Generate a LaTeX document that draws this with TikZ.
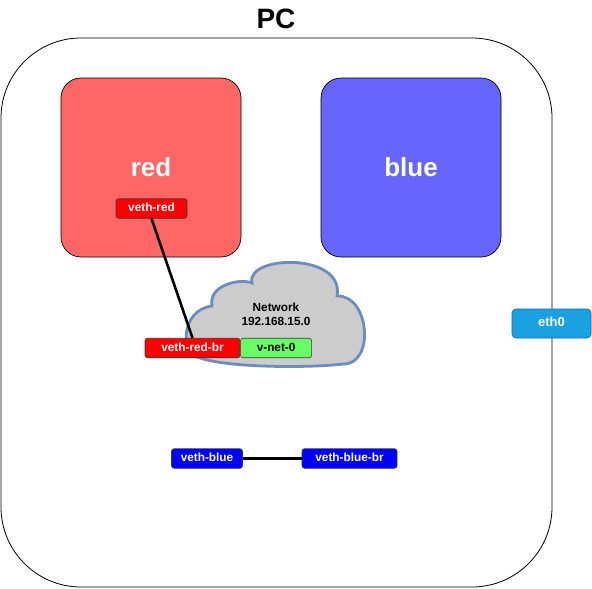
\documentclass[tikz,border=0pt]{standalone}
\usepackage{fontspec}
\setmainfont{Liberation Sans}
\usetikzlibrary{positioning}

\definecolor{nsred}{HTML}{FF6666}
\definecolor{nsblue}{HTML}{6666FF}
\definecolor{vethred}{HTML}{FF0000}
\definecolor{vethblue}{HTML}{0000FF}
\definecolor{vnetgreen}{HTML}{66FF66}
\definecolor{cloudgray}{HTML}{CCCCCC}
\definecolor{cloudedge}{HTML}{6C8EBF}
\definecolor{ethfill}{HTML}{1BA1E2}
\definecolor{ethedge}{HTML}{006EAF}
\definecolor{boxedge}{HTML}{36393D}

\begin{document}
\begin{tikzpicture}
[x=1pt, y=-1pt, text=black,
host/.style = {rectangle, draw=black, line width=0.8pt, rounded corners=80pt,
               minimum width=551pt, minimum height=549pt},
namespace/.style = {rectangle, draw=black, line width=0.7pt, rounded corners=20pt,
                    minimum width=180pt, minimum height=179pt, text=white,
                    font=\fontsize{26}{30}\selectfont\bfseries},
iface/.style = {rectangle, draw=boxedge, line width=0.6pt, rounded corners=2.5pt,
                minimum height=19.5pt, inner sep=0pt, text=white,
                font=\fontsize{11.8}{14}\selectfont\bfseries, text height=1.5ex, text depth=.25ex},
short/.style = {iface, minimum width=71pt},
long/.style = {iface, minimum width=95pt},
link/.style = {line width=2.6pt, black},
cloudline/.style = {draw=cloudedge, fill=cloudgray, line width=2.8pt}]
\useasboundingbox (0,0) rectangle (592,589);

% host machine
\node[host] (pc) at (276.5,312.5) {};
\node[font=\fontsize{28}{32}\selectfont\bfseries] (pclabel) at (276,18.5) {PC};

% network namespaces
\node[namespace, fill=nsred] (red) at (151,167.5) {red};
\node[namespace, fill=nsblue] (blue) at (411,167.5) {blue};

% bridge cloud
\draw[cloudline] (252,283) .. controls (245,255) and (345,252) .. (337,296)
  .. controls (370,295) and (375,365) .. (343,364)
  .. controls (310,368) and (230,368) .. (200,358)
  .. controls (180,355) and (180,310) .. (212,306)
  .. controls (208,285) and (240,278) .. cycle;
\node[align=center, font=\fontsize{11.8}{14}\selectfont\bfseries] (net) at (276,314) {Network\\192.168.15.0};

% interfaces
\node[short, fill=vethred] (vr) at (151.5,208.5) {veth-red};
\node[long, fill=vethred] (vrb) at (192.5,348) {veth-red-br};
\node[short, fill=vnetgreen, text=black, right=0pt of vrb] (vnet) {v-net-0};
\node[short, fill=vethblue] (vb) at (207,458.5) {veth-blue};
\node[long, fill=vethblue] (vbb) at (349.5,458.5) {veth-blue-br};
\node[iface, fill=ethfill, draw=ethedge, rounded corners=4pt, minimum width=79pt,
      minimum height=29pt, font=\fontsize{13}{15}\selectfont\bfseries] (eth) at (551.5,323.5) {eth0};

% cables
\draw[link] (vr.south) -- (vrb.north);
\draw[link] (vb) -- (vbb);
\end{tikzpicture}
\end{document}
